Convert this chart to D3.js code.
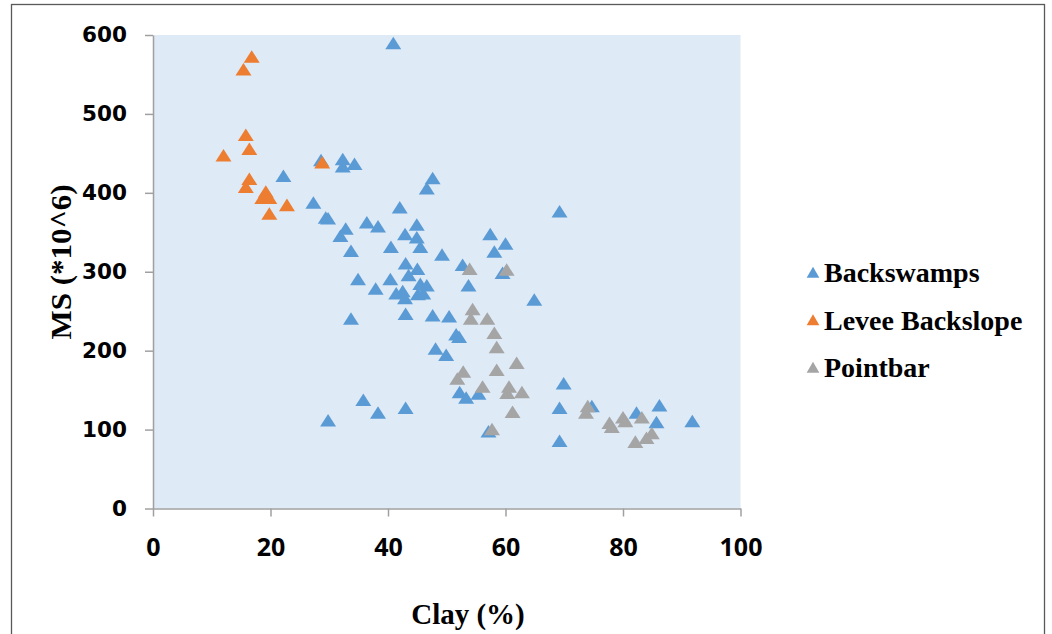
<!DOCTYPE html>
<html>
<head>
<meta charset="utf-8">
<script src="https://cdn.jsdelivr.net/npm/d3@7"></script>
<style>
    body { margin: 0; background: #fff; }
    svg { display: block; }
</style>
</head>
<body>
<svg id="chart" width="1052" height="634"></svg>
<script>
// series names and colours
var seriesNames = ["Backswamps", "Levee Backslope", "Pointbar"];
var seriesColors = ["#5B9BD5", "#ED7D31", "#A5A5A5"];

// Backswamps (clay %, MS)
var backswampsClay = [40.9, 28.6, 32.3, 32.3, 34.3, 22.2, 47.6, 46.6, 27.3, 29.4, 29.8, 42.0, 36.4, 38.3, 44.9, 32.8,
    31.9, 42.9, 44.9, 45.5, 40.5, 33.7, 43.0, 45.0, 43.5, 34.9, 40.4, 45.5, 46.6, 37.9, 41.4, 42.5, 42.9, 45.1, 46.0,
    43.0, 47.6, 33.7, 48.1, 49.9, 35.8, 38.3, 43.0, 29.8, 69.2, 57.4, 60.0, 58.1, 49.2, 52.7, 59.5, 53.7, 64.9, 50.4,
    51.6, 52.1, 55.4, 52.2, 53.3, 69.9, 69.2, 74.7, 82.3, 86.2, 85.7, 91.8, 57.1, 69.2];
var backswampsMS = [589, 441, 442, 433, 436, 421, 418, 405, 387, 368, 367, 381, 362, 357, 359, 354,
    345, 347, 343, 331, 331, 326, 310, 303, 295, 290, 290, 284, 282, 278, 272, 275, 266, 271, 272,
    246, 244, 240, 202, 194, 137, 121, 127, 111, 376, 347, 335, 325, 321, 308, 298, 282, 264, 243,
    220, 217, 145, 147, 140, 158, 127, 129, 121, 130, 109, 110, 97, 85];

// Levee Backslope
var leveeClay = [16.8, 15.4, 15.8, 16.4, 12.0, 28.8, 16.4, 15.8, 19.2, 18.6, 19.8, 22.8, 19.8];
var leveeMS = [572, 556, 473, 455, 447, 438, 417, 407, 401, 393, 393, 384, 373];

// Pointbar
var pointbarClay = [53.9, 60.2, 54.4, 54.1, 56.9, 58.1, 58.5, 61.9, 58.5, 52.8, 51.8, 56.1, 60.6, 60.3, 62.8, 61.2,
    57.7, 74.0, 73.7, 77.7, 78.1, 80.0, 80.4, 83.2, 84.9, 84.0, 82.1];
var pointbarMS = [303, 302, 252, 240, 240, 222, 204, 184, 175, 173, 164, 154, 154, 146, 147, 122,
    100, 129, 121, 108, 103, 115, 110, 115, 95, 89, 84];

// axis ticks
var xTicks = [0, 20, 40, 60, 80, 100];
var yTicks = [0, 100, 200, 300, 400, 500, 600];

var svg = d3.select("#chart");

var plotLeft = 153;
var plotRight = 740.5;
var plotTop = 35;
var plotBottom = 508.5;

var x = d3.scaleLinear().domain([0, 100]).range([plotLeft, plotRight]);
var y = d3.scaleLinear().domain([0, 600]).range([plotBottom, plotTop]);

// outer frame
svg.append("rect")
    .attr("x", 11.5).attr("y", 4.5)
    .attr("width", 1033).attr("height", 660)
    .style("fill", "none")
    .style("stroke", "#595959")
    .style("stroke-width", 1.3);

// plot background
svg.append("rect")
    .attr("x", x(0)).attr("y", y(600))
    .attr("width", x(100) - x(0)).attr("height", y(0) - y(600))
    .style("fill", "#DEEAF6");

// axes
var yAxis = svg.append("g")
    .attr("transform", "translate(" + plotLeft + ",0)")
    .call(d3.axisLeft(y).tickValues(yTicks).tickSize(8).tickPadding(18).tickSizeOuter(0));

var xAxis = svg.append("g")
    .attr("transform", "translate(0," + plotBottom + ")")
    .call(d3.axisBottom(x).tickValues(xTicks).tickSize(8).tickSizeOuter(0));

[xAxis, yAxis].forEach(function (ax) {
    ax.select(".domain").style("stroke", "#A0A0A0").style("stroke-width", 1.5);
    ax.selectAll(".tick line").style("stroke", "#A0A0A0").style("stroke-width", 1.5);
    ax.selectAll("text").style("fill", "#000").style("font-weight", "bold");
});

yAxis.selectAll("text")
    .style("font-family", "'DejaVu Sans', sans-serif")
    .style("font-size", "21.5px");

xAxis.selectAll("text")
    .attr("y", 47).attr("dy", 0)
    .style("font-family", "'Open Sans', sans-serif")
    .style("font-size", "25px");

// markers
var tri = d3.symbol().type(d3.symbolTriangle).size(100);

function series(clay, ms, color) {
    var pts = clay.map(function (v, i) { return { clay: v, ms: ms[i] }; });
    svg.append("g").selectAll("path")
        .data(pts)
        .enter().append("path")
        .attr("d", tri)
        .attr("transform", function (d) { return "translate(" + x(d.clay) + "," + (y(d.ms) + 1.5) + ") scale(1.05,0.95)"; })
        .style("fill", color);
}

series(backswampsClay, backswampsMS, seriesColors[0]);
series(leveeClay, leveeMS, seriesColors[1]);
series(pointbarClay, pointbarMS, seriesColors[2]);

// axis titles
svg.append("text")
    .attr("x", 468)
    .attr("y", 624)
    .attr("text-anchor", "middle")
    .style("font-family", "'Liberation Serif', serif")
    .style("font-weight", "bold")
    .style("font-size", "29px")
    .text("Clay (%)");

svg.append("text")
    .attr("transform", "translate(71,262) rotate(-90)")
    .attr("text-anchor", "middle")
    .attr("textLength", 155)
    .attr("lengthAdjust", "spacingAndGlyphs")
    .style("font-family", "'Liberation Serif', serif")
    .style("font-weight", "bold")
    .style("font-size", "29px")
    .text("MS (*10^6)");

// legend
var legend = svg.append("g").selectAll("g")
    .data(seriesNames)
    .enter().append("g")
    .attr("transform", function (d, i) { return "translate(813," + (273 + i * 47.5) + ")"; });

legend.append("path")
    .attr("d", d3.symbol().type(d3.symbolTriangle).size(70))
    .attr("transform", "translate(0,1)")
    .style("fill", function (d, i) { return seriesColors[i]; });

legend.append("text")
    .attr("x", 11)
    .attr("y", 9)
    .style("font-family", "'Liberation Serif', serif")
    .style("font-weight", "bold")
    .style("font-size", "28px")
    .text(function (d) { return d; });
</script>
</body>
</html>
